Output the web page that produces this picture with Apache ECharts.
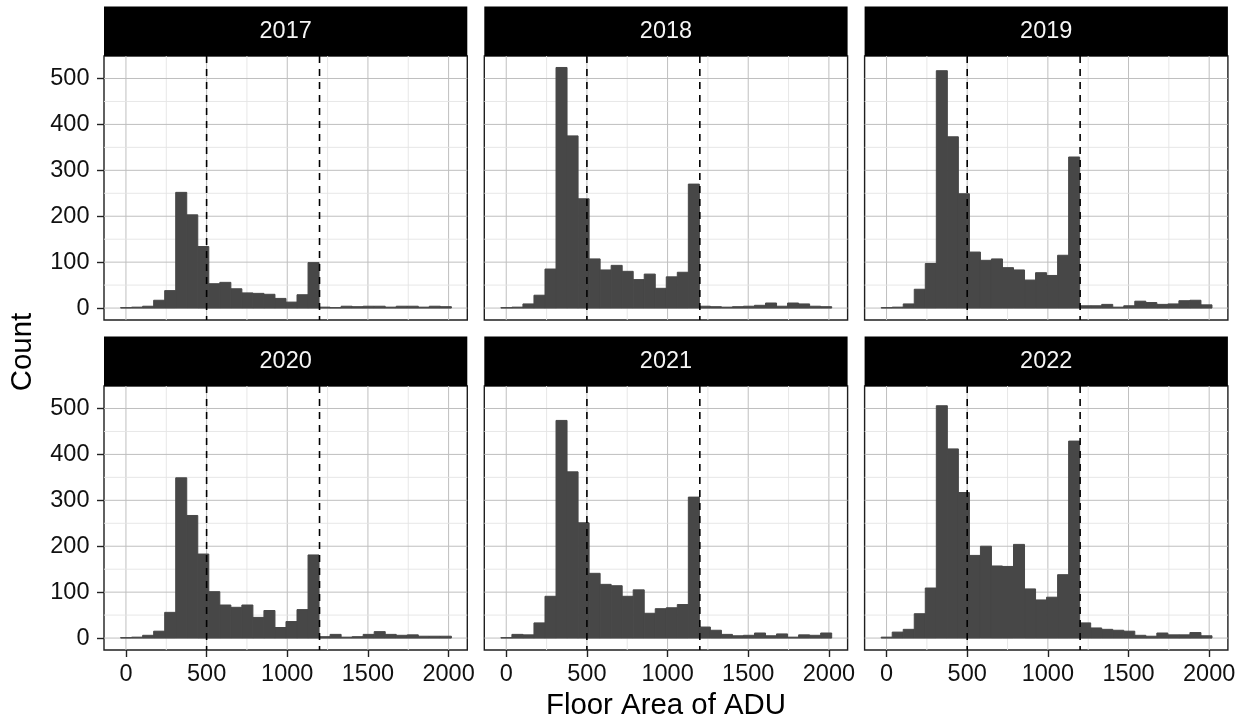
<!DOCTYPE html>
<html>
<head>
<meta charset="utf-8">
<script src="https://cdn.jsdelivr.net/npm/echarts@6/dist/echarts.min.js"></script>
<style>
  html, body { margin: 0; padding: 0; background: #ffffff; }
  #chart { width: 1245px; height: 723px; }
</style>
</head>
<body>
<div id="chart"></div>
<script>
// ---- data -------------------------------------------------------------
const years = ['2017', '2018', '2019', '2020', '2021', '2022'];

// histogram bins: 30 equal-width bins starting at binStart
const binStart = -33.2;
const binWidth = 68.35;

const counts2017 = [1, 2, 4, 17, 38, 252, 203, 134, 53, 56, 42, 33, 32, 30, 21, 13, 29, 99, 2, 1, 4, 3, 4, 4, 2, 4, 4, 2, 4, 3];
const counts2018 = [1, 2, 9, 28, 85, 524, 375, 238, 107, 83, 93, 80, 62, 74, 43, 68, 78, 270, 4, 3, 2, 3, 4, 6, 11, 4, 11, 9, 4, 3];
const counts2019 = [1, 2, 9, 41, 97, 517, 373, 249, 122, 104, 107, 88, 83, 61, 77, 71, 115, 329, 5, 5, 8, 2, 5, 15, 12, 8, 9, 16, 17, 7];
const counts2020 = [1, 2, 6, 15, 56, 349, 267, 183, 101, 72, 67, 72, 45, 60, 23, 36, 62, 181, 3, 8, 2, 3, 8, 14, 8, 6, 7, 4, 4, 4];
const counts2021 = [1, 8, 7, 33, 91, 474, 362, 251, 141, 117, 114, 91, 105, 54, 64, 66, 73, 307, 24, 17, 8, 5, 6, 11, 5, 9, 2, 7, 6, 11];
const counts2022 = [2, 13, 19, 53, 109, 506, 412, 317, 180, 200, 157, 156, 204, 107, 83, 89, 138, 429, 33, 22, 19, 17, 15, 6, 4, 11, 7, 7, 12, 5];
const countsByYear = [counts2017, counts2018, counts2019, counts2020, counts2021, counts2022];

// reference lines (floor area thresholds)
const cutoffs = [500, 1200];

// axis ticks and grid lines
const xTicks = [0, 500, 1000, 1500, 2000];
const xMinor = [250, 750, 1250, 1750];
const yTicks = [0, 100, 200, 300, 400, 500];
const yMinor = [50, 150, 250, 350, 450];

const xTitle = 'Floor Area of ADU';
const yTitle = 'Count';

// ---- layout -----------------------------------------------------------
const FONT = '"Liberation Sans", Arial, Helvetica, sans-serif';
const X_RANGE = [-136, 2116];
const Y_RANGE = [-26, 549];
const PANEL_LEFT = 104;
const COL_STEP = 380.3;
const PANEL_W = 363.3;
const PANEL_H = 264;
const ROW_TOPS = [56, 386];
const STRIP_H = 49.5;

const chart = echarts.init(document.getElementById('chart'), null, { renderer: 'canvas' });

function renderGridLine(params, api) {
  const cs = params.coordSys;
  const v = api.value(0);
  const kind = api.value(1); // 0 x-major, 1 x-minor, 2 y-major, 3 y-minor
  const major = kind === 0 || kind === 2;
  let shape;
  if (kind < 2) {
    const x = api.coord([v, 0])[0];
    shape = { x1: x, y1: cs.y, x2: x, y2: cs.y + cs.height };
  } else {
    const y = api.coord([0, v])[1];
    shape = { x1: cs.x, y1: y, x2: cs.x + cs.width, y2: y };
  }
  return {
    type: 'line', silent: true, shape: shape,
    style: { stroke: major ? '#bfbfbf' : '#e4e4e4', lineWidth: major ? 1 : 0.9 }
  };
}

function renderBar(params, api) {
  const a = api.coord([api.value(0), 0]);
  const b = api.coord([api.value(1), api.value(2)]);
  return {
    type: 'rect',
    shape: { x: a[0], y: b[1], width: b[0] - a[0], height: a[1] - b[1] },
    style: { fill: '#474747', stroke: '#474747', lineWidth: 1 }
  };
}

function renderCutoff(params, api) {
  const cs = params.coordSys;
  const x = api.coord([api.value(0), 0])[0];
  return {
    type: 'line', silent: true,
    shape: { x1: x, y1: cs.y, x2: x, y2: cs.y + cs.height },
    style: { stroke: '#000000', lineWidth: 1.6, lineDash: [7, 6] }
  };
}

const plainNumber = v => String(v);

const grids = [], xAxes = [], yAxes = [], series = [], graphics = [];

const gridLineData = []
  .concat(xTicks.map(v => [v, 0]))
  .concat(xMinor.map(v => [v, 1]))
  .concat(yTicks.map(v => [v, 2]))
  .concat(yMinor.map(v => [v, 3]));

years.forEach((year, i) => {
  const row = Math.floor(i / 3);
  const col = i % 3;
  const left = PANEL_LEFT + col * COL_STEP;
  const top = ROW_TOPS[row];
  const showX = row === 1;
  const showY = col === 0;

  grids.push({
    left: left, top: top, width: PANEL_W, height: PANEL_H,
    show: true, backgroundColor: '#ffffff',
    borderColor: '#1f1f1f', borderWidth: 1.4
  });

  xAxes.push({
    type: 'value', gridIndex: i, min: X_RANGE[0], max: X_RANGE[1],
    position: 'bottom',
    axisLine: { show: false, onZero: false },
    splitLine: { show: false },
    axisTick: {
      show: showX, customValues: xTicks, length: 7, inside: false,
      lineStyle: { color: '#222222', width: 1.4 }
    },
    axisLabel: {
      show: showX, customValues: xTicks, margin: 13, formatter: plainNumber,
      fontSize: 23.5, fontFamily: FONT, color: '#111111'
    }
  });

  yAxes.push({
    type: 'value', gridIndex: i, min: Y_RANGE[0], max: Y_RANGE[1],
    position: 'left',
    axisLine: { show: false, onZero: false },
    splitLine: { show: false },
    axisTick: {
      show: showY, customValues: yTicks, length: 7, inside: false,
      lineStyle: { color: '#222222', width: 1.4 }
    },
    axisLabel: {
      show: showY, customValues: yTicks, margin: 14.5, formatter: plainNumber,
      fontSize: 23.5, fontFamily: FONT, color: '#111111'
    }
  });

  series.push({
    type: 'custom', xAxisIndex: i, yAxisIndex: i, z: 1, silent: true,
    renderItem: renderGridLine, data: gridLineData, encode: { x: 0, y: 0 }
  });

  const bars = countsByYear[i].map((c, k) => [
    binStart + k * binWidth,
    binStart + (k + 1) * binWidth,
    c
  ]);
  series.push({
    type: 'custom', name: year, xAxisIndex: i, yAxisIndex: i, z: 2,
    renderItem: renderBar, data: bars, encode: { x: [0, 1], y: 2 }
  });

  series.push({
    type: 'custom', xAxisIndex: i, yAxisIndex: i, z: 3, silent: true,
    renderItem: renderCutoff, data: cutoffs.map(v => [v]), encode: { x: 0, y: 0 }
  });

  // facet strip
  graphics.push({
    type: 'group', left: left, top: top - STRIP_H,
    children: [
      {
        type: 'rect',
        shape: { x: 0, y: 0, width: PANEL_W, height: STRIP_H },
        style: { fill: '#000000' }
      },
      {
        type: 'text', x: PANEL_W / 2, y: STRIP_H / 2 + 0.5,
        style: {
          text: year, fill: '#f5f5f5', font: '23.5px ' + FONT,
          textAlign: 'center', textVerticalAlign: 'middle'
        }
      }
    ]
  });
});

// shared axis titles
graphics.push({
  type: 'text', x: 23, y: 352, rotation: Math.PI / 2,
  style: {
    text: yTitle, fill: '#000000', font: '29.4px ' + FONT,
    textAlign: 'center', textVerticalAlign: 'middle'
  }
});
graphics.push({
  type: 'text', x: 666, y: 706,
  style: {
    text: xTitle, fill: '#000000', font: '29.4px ' + FONT,
    textAlign: 'center', textVerticalAlign: 'middle'
  }
});

chart.setOption({
  animation: false,
  backgroundColor: '#ffffff',
  grid: grids,
  xAxis: xAxes,
  yAxis: yAxes,
  series: series,
  graphic: graphics
});
</script>
</body>
</html>
